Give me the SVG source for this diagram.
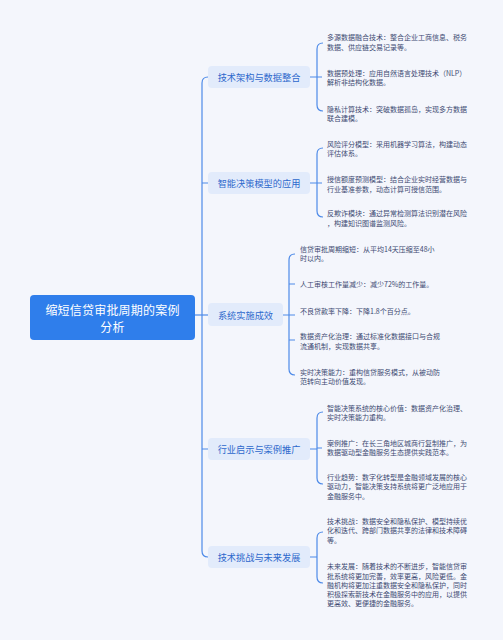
<svg xmlns="http://www.w3.org/2000/svg" width="503" height="640" viewBox="0 0 503 640">
<style>
.bg{fill:#f4f6fc}
.root rect{fill:#2f7eeb}
.root text{fill:#ffffff;font-family:"Noto Sans CJK SC","Noto Sans",sans-serif;font-size:12px;letter-spacing:0.2px;text-anchor:middle;dominant-baseline:central}
.br rect{fill:#e2ebfb}
.br text{fill:#2d68cc;font-family:"Noto Sans CJK SC","Noto Sans",sans-serif;font-size:9.2px;text-anchor:middle;dominant-baseline:central}
.leaf text{fill:#3d4a72;font-family:"Noto Sans CJK SC","Noto Sans",sans-serif;font-size:7px;dominant-baseline:central}
.conn path{fill:none;stroke:#4d8ae8;stroke-width:1.2}
</style>
<rect class="bg" x="0" y="0" width="503" height="640"/>
<g id="connectors" class="conn">
<path d="M195 315 H208"/>
<path d="M208 77 Q202 77 202 83 V551 Q202 557 208 557"/>
<path d="M202 183 H208 M202 449 H208"/>
<path d="M310 77 H317 M323 43 Q317 43 317 49 V105 Q317 111 323 111 M317 77 H322"/>
<path d="M310 183 H317 M323 148 Q317 148 317 154 V211 Q317 217 323 217 M317 183 H322"/>
<path d="M283 315 H289 M295 254 Q289 254 289 260 V369 Q289 375 295 375 M289 284 H295 M289 315 H295 M289 340 H295"/>
<path d="M310 449 H317 M323 412 Q317 412 317 418 V478 Q317 484 323 484 M317 448 H322"/>
<path d="M310 557 H317 M323 532 Q317 532 317 538 V577 Q317 583 323 583"/>
</g>
<g id="root" class="root">
<rect x="30" y="295" width="165" height="45" rx="4"/>
<text x="112.5" y="309.5">缩短信贷审批周期的案例</text>
<text x="112.5" y="326">分析</text>
</g>
<g id="b1" class="br"><rect x="208" y="66" width="102" height="22" rx="4"/><text x="259" y="77">技术架构与数据整合</text></g>
<g id="b2" class="br"><rect x="208" y="172" width="102" height="22" rx="4"/><text x="259" y="183">智能决策模型的应用</text></g>
<g id="b3" class="br"><rect x="208" y="303" width="75" height="23" rx="4"/><text x="245.5" y="314.5">系统实施成效</text></g>
<g id="b4" class="br"><rect x="208" y="438" width="102" height="22" rx="4"/><text x="259" y="449">行业启示与案例推广</text></g>
<g id="b5" class="br"><rect x="208" y="546" width="102" height="22" rx="4"/><text x="259" y="557">技术挑战与未来发展</text></g>
<g id="l1a" class="leaf"><text x="327" y="37">多源数据融合技术：整合企业工商信息、税务</text><text x="327" y="47">数据、供应链交易记录等。</text></g>
<g id="l1b" class="leaf"><text x="327" y="73">数据预处理：应用自然语言处理技术（NLP）</text><text x="327" y="82">解析非结构化数据。</text></g>
<g id="l1c" class="leaf"><text x="327" y="109">隐私计算技术：突破数据孤岛，实现多方数据</text><text x="327" y="118">联合建模。</text></g>
<g id="l2a" class="leaf"><text x="327" y="144">风险评分模型：采用机器学习算法，构建动态</text><text x="327" y="153">评估体系。</text></g>
<g id="l2b" class="leaf"><text x="327" y="179">授信额度预测模型：结合企业实时经营数据与</text><text x="327" y="189">行业基准参数，动态计算可授信范围。</text></g>
<g id="l2c" class="leaf"><text x="327" y="213">反欺诈模块：通过异常检测算法识别潜在风险</text><text x="327" y="223">，构建知识图谱监测风险。</text></g>
<g id="l3a" class="leaf"><text x="300" y="249">信贷审批周期缩短：从平均14天压缩至48小</text><text x="300" y="258">时以内。</text></g>
<g id="l3b" class="leaf"><text x="300" y="284">人工审核工作量减少：减少72%的工作量。</text></g>
<g id="l3c" class="leaf"><text x="300" y="311">不良贷款率下降：下降1.8个百分点。</text></g>
<g id="l3d" class="leaf"><text x="300" y="336">数据资产化治理：通过标准化数据接口与合规</text><text x="300" y="346">流通机制，实现数据共享。</text></g>
<g id="l3e" class="leaf"><text x="300" y="372">实时决策能力：重构信贷服务模式，从被动防</text><text x="300" y="381">范转向主动价值发现。</text></g>
<g id="l4a" class="leaf"><text x="327" y="408">智能决策系统的核心价值：数据资产化治理、</text><text x="327" y="417">实时决策能力重构。</text></g>
<g id="l4b" class="leaf"><text x="327" y="443">案例推广：在长三角地区城商行复制推广，为</text><text x="327" y="452">数据驱动型金融服务生态提供实践范本。</text></g>
<g id="l4c" class="leaf"><text x="327" y="477">行业趋势：数字化转型是金融领域发展的核心</text><text x="327" y="486">驱动力，智能决策支持系统将更广泛地应用于</text><text x="327" y="496">金融服务中。</text></g>
<g id="l5a" class="leaf"><text x="327" y="521">技术挑战：数据安全和隐私保护、模型持续优</text><text x="327" y="530">化和迭代、跨部门数据共享的法律和技术障碍</text><text x="327" y="540">等。</text></g>
<g id="l5b" class="leaf"><text x="327" y="566">未来发展：随着技术的不断进步，智能信贷审</text><text x="327" y="576">批系统将更加完善，效率更高，风险更低。金</text><text x="327" y="585">融机构将更加注重数据安全和隐私保护，同时</text><text x="327" y="594">积极探索新技术在金融服务中的应用，以提供</text><text x="327" y="603">更高效、更便捷的金融服务。</text></g>
</svg>
